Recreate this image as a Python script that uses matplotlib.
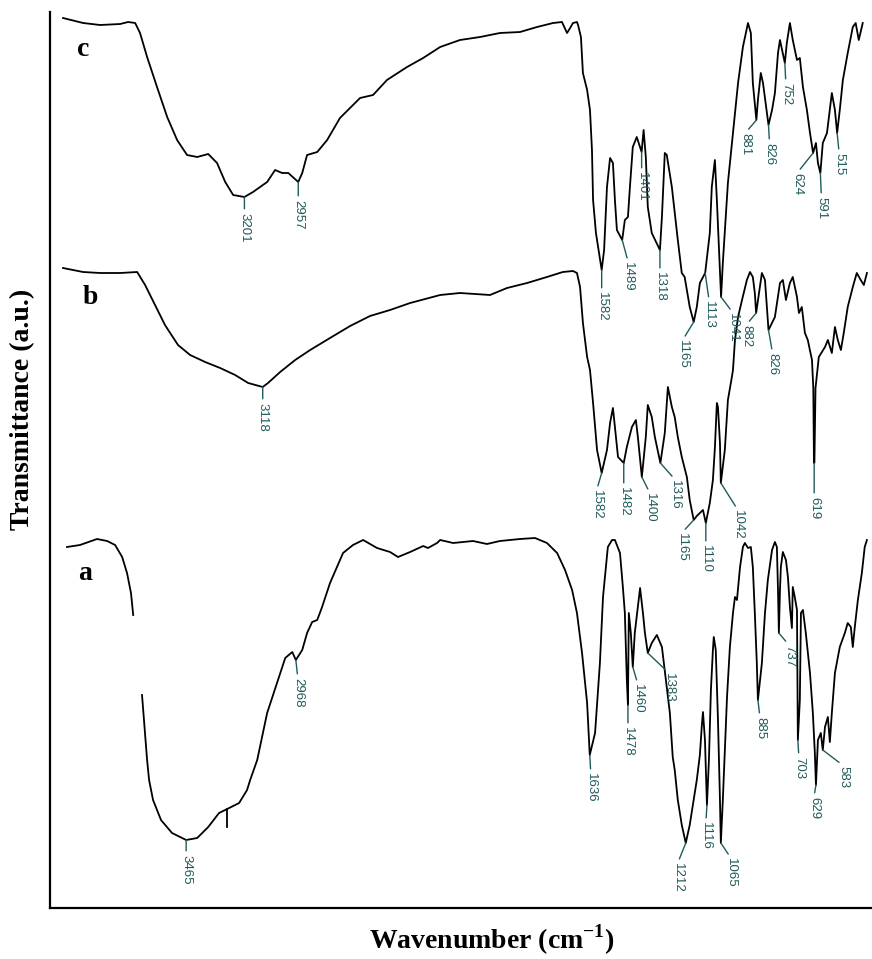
import matplotlib
matplotlib.use("Agg")
import matplotlib.pyplot as plt

plt.rcParams["mathtext.fontset"] = "custom"
plt.rcParams["mathtext.rm"] = "Liberation Serif"
plt.rcParams["mathtext.bf"] = "Liberation Serif:bold"

# ---- spectrum c (wavenumber, transmittance a.u.) ----
c_w = [4023, 3932, 3855, 3764, 3728, 3696, 3674, 3642, 3597, 3551, 3506, 3461, 3415, 3365,
       3325, 3288, 3252, 3201, 3162, 3098, 3062, 3030, 3002, 2957, 2939, 2917, 2871, 2826,
       2768, 2677, 2618, 2555, 2464, 2391, 2314, 2224, 2133, 2043, 1952, 1875, 1802, 1762,
       1739, 1725, 1712, 1694, 1689, 1676, 1667, 1648, 1635, 1626, 1621, 1608, 1582, 1571,
       1558, 1544, 1531, 1522, 1513, 1489, 1477, 1463, 1454, 1441, 1423, 1401, 1392, 1382,
       1373, 1355, 1318, 1309, 1296, 1287, 1264, 1251, 1237, 1219, 1206, 1183, 1165, 1151,
       1137, 1113, 1092, 1083, 1069, 1060, 1041, 1033, 1010, 987, 964, 942, 919, 906, 897,
       881, 874, 861, 851, 833, 826, 810, 797, 783, 774, 752, 743, 729, 716, 697, 684, 670,
       652, 638, 624, 611, 602, 591, 580, 561, 552, 539, 525, 515, 503, 489, 467, 444, 431,
       417, 399]
c_t = [890, 885, 883, 884, 886, 885, 875, 851, 821, 791, 768, 753, 751, 754,
       745, 726, 713, 711, 716, 726, 738, 735, 735, 726, 735, 753, 756, 768,
       790, 810, 813, 828, 841, 850, 861, 868, 871, 875, 876, 881, 885, 886,
       875, 880, 885, 886, 883, 871, 835, 818, 798, 758, 708, 675, 638, 658,
       721, 750, 745, 708, 678, 668, 688, 691, 721, 761, 771, 756, 778, 751,
       701, 675, 658, 691, 755, 753, 721, 695, 668, 635, 631, 601, 586, 601,
       625, 635, 675, 721, 748, 708, 611, 645, 725, 775, 825, 861, 885, 875, 825,
       788, 808, 835, 825, 795, 783, 798, 815, 855, 868, 845, 865, 885, 868, 848, 850, 821,
       798, 775, 755, 765, 745, 735, 765, 775, 791, 815, 798, 775, 798, 828, 855, 881, 885,
       868, 885]

# ---- spectrum b ----
b_w = [4023, 3932, 3855, 3764, 3687, 3651, 3606, 3561, 3502, 3447, 3379, 3311, 3243, 3184,
       3118, 3094, 3039, 2971, 2903, 2813, 2722, 2632, 2541, 2450, 2382, 2314, 2224, 2088,
       2011, 1920, 1830, 1758, 1712, 1694, 1680, 1667, 1648, 1635, 1621, 1603, 1582, 1558,
       1544, 1531, 1522, 1508, 1482, 1468, 1445, 1427, 1418, 1400, 1382, 1373, 1355, 1341,
       1316, 1296, 1282, 1264, 1251, 1237, 1219, 1196, 1183, 1165, 1151, 1137, 1123, 1110,
       1092, 1078, 1069, 1060, 1055, 1046, 1042, 1024, 1010, 992, 987, 978, 964, 946, 924,
       910, 897, 888, 882, 856, 842, 826, 797, 774, 761, 747, 729, 716, 697, 688, 675, 661,
       648, 629, 623, 620, 618, 613, 598, 570, 557, 539, 525, 512, 498, 485, 467, 444, 426,
       408, 394, 380]
b_t = [640, 636, 635, 635, 636, 623, 603, 583, 563, 553, 546, 540, 533, 525,
       521, 525, 536, 548, 558, 570, 582, 592, 598, 605, 609, 613, 615, 613,
       620, 625, 631, 636, 637, 635, 621, 585, 551, 538, 505, 458, 435, 458,
       485, 500, 481, 451, 445, 461, 481, 488, 471, 431, 471, 503, 491, 471,
       445, 475, 521, 501, 491, 471, 451, 431, 408, 388, 392, 395, 398, 385,
       405, 428, 460, 505, 501, 465, 425, 458, 508, 531, 538, 568, 591, 608, 628,
       636, 631, 615, 595, 635, 628, 578, 591, 625, 628, 608, 625, 631, 611, 595, 601, 575,
       568, 548, 520, 445, 445, 520, 551, 561, 568, 555, 581, 568, 558, 575, 601, 621, 635,
       628, 623, 635]

# ---- spectrum a (broken at the start, as in the original record) ----
a1_w = [4005, 3946, 3869, 3823, 3787, 3755, 3733, 3715, 3705]
a1_t = [361, 363, 369, 367, 363, 351, 335, 315, 293]

a_w = [3665, 3642, 3633, 3615, 3579, 3529, 3465, 3415, 3365, 3316, 3279, 3225, 3189, 3175,
       3143, 3098, 3053, 3016, 2984, 2968, 2939, 2917, 2894, 2871, 2849, 2813, 2754, 2709,
       2663, 2600, 2541, 2505, 2450, 2391, 2369, 2328, 2314, 2255, 2165, 2102, 2043, 1952,
       1884, 1830, 1784, 1748, 1716, 1694, 1671, 1648, 1636, 1612, 1590, 1576, 1554, 1535,
       1522, 1499, 1486, 1477, 1468, 1463, 1459, 1450, 1441, 1432, 1418, 1408, 1395, 1386,
       1373, 1355, 1332, 1309, 1291, 1273, 1260, 1251, 1237, 1219, 1201, 1183, 1165, 1151,
       1137, 1128, 1123, 1114, 1105, 1096, 1087, 1078, 1074, 1065, 1055, 1046, 1042, 1033,
       1024, 1014, 1001, 987, 978, 969, 955, 942, 933, 919, 906, 897, 888, 879, 874, 856,
       842, 829, 810, 797, 788, 783, 779, 774, 770, 761, 747, 738, 729, 720, 716, 707, 697,
       693, 684, 679, 670, 657, 638, 625, 616, 611, 602, 589, 580, 570, 557, 548, 539, 525,
       503, 480, 467, 453, 444, 435, 421, 403, 390, 380]
a_t = [213, 148, 128, 108, 88, 75, 68, 70, 81, 95, 99, 105, 118, 128,
       148, 195, 225, 250, 256, 248, 258, 275, 286, 288, 301, 325, 355, 363,
       368, 360, 356, 351, 356, 362, 360, 365, 368, 365, 367, 364, 367, 369,
       370, 365, 355, 338, 318, 295, 255, 205, 153, 175, 245, 311, 361, 368,
       368, 355, 321, 295, 228, 203, 295, 275, 241, 275, 301, 320, 295, 275,
       255, 265, 273, 261, 228, 195, 151, 138, 108, 83, 65, 83, 108, 128,
       153, 183, 196, 168, 103, 148, 218, 258, 271, 258, 188, 108, 65, 108,
       158, 211, 261, 295, 311, 308, 341, 361, 365, 360, 361, 341, 295, 245, 208, 245,
       295, 328, 358, 366, 361, 318, 275, 318, 341, 356, 348, 331, 301, 280, 321, 311, 298,
       168, 208, 295, 298, 275, 235, 195, 155, 123, 168, 175, 158, 181, 191, 166, 195, 235,
       261, 275, 285, 281, 261, 281, 308, 335, 361, 368]
a_tick_w = [3279, 3279]
a_tick_t = [99, 81]

# ---- peak labels: text, anchor wavenumber, anchor transmittance ----
peak_text = ["3201", "2957", "1582", "1489", "1401", "1318", "1165", "1113", "1041",
             "881", "826", "752", "624", "591", "515",
             "3118", "1582", "1482", "1400", "1316", "1165", "1110", "1042", "882",
             "826", "619",
             "3465", "2968", "1636", "1478", "1460", "1383", "1212", "1116", "1065",
             "885", "737", "703", "629", "583"]
peak_w = [3201, 2957, 1582, 1489, 1401, 1318, 1165, 1113, 1041,
          881, 826, 752, 624, 591, 515,
          3118, 1582, 1482, 1400, 1316, 1165, 1110, 1042, 882,
          826, 619,
          3465, 2968, 1636, 1463, 1441, 1373, 1201, 1105, 1042,
          874, 779, 693, 611, 580]
peak_t = [711, 726, 638, 668, 756, 658, 586, 635, 611,
          788, 783, 845, 755, 735, 775,
          521, 435, 445, 431, 445, 388, 385, 425, 595,
          578, 445,
          68, 248, 153, 203, 241, 255, 65, 103, 65,
          208, 275, 168, 123, 158]
# label text offset from the peak, in pixels (right, down)
label_dx = [0, 0, 0, 6, 0, 0, -11, 4, 12,
            -11, 1, 1, -16, 1, 2,
            0, -5, 0, 8, 15, -12, 0, 17, -10,
            4, 0,
            0, 2, 1, 0, 5, 21, -8, -1, 10,
            2, 10, 1, -2, 21]
label_dy = [16, 18, 22, 22, 20, 22, 18, 28, 16,
            13, 18, 20, 20, 24, 20,
            16, 17, 24, 16, 17, 13, 22, 27, 12,
            23, 34,
            15, 18, 18, 22, 17, 20, 20, 17, 15,
            17, 12, 17, 12, 16]

TEAL = "#1f5a5c"

fig = plt.figure(figsize=(8.72, 9.59), dpi=100)
ax = fig.add_axes([50 / 872, 51 / 959, 822 / 872, 896 / 959])

for xs, ys in ((c_w, c_t), (b_w, b_t), (a1_w, a1_t), (a_w, a_t), (a_tick_w, a_tick_t)):
    ax.plot(xs, ys, color="black", lw=1.3)

for txt, w, t, dx, dy in zip(peak_text, peak_w, peak_t, label_dx, label_dy):
    ax.annotate(txt, xy=(w, t), xytext=(dx, -dy), textcoords="offset pixels",
                rotation=270, ha="center", va="top", fontsize=9.5,
                family="Liberation Sans", color=TEAL,
                arrowprops=dict(arrowstyle="-", color=TEAL, lw=1.0,
                                shrinkA=1, shrinkB=0, relpos=(0.5, 1.0)))

ax.set_xlim(4082, 357)
ax.set_ylim(0, 896)
ax.set_xticks([])
ax.set_yticks([])
for side in ("top", "right"):
    ax.spines[side].set_visible(False)
for side in ("left", "bottom"):
    ax.spines[side].set_linewidth(1.6)

serif = dict(family="Liberation Serif", weight="bold")
ax.text(3932, 858, "c", fontsize=20, ha="center", va="center", **serif)
ax.text(3900, 610, "b", fontsize=20, ha="center", va="center", **serif)
ax.text(3923, 335, "a", fontsize=20, ha="center", va="center", **serif)

fig.text(492 / 872, 1 - 940 / 959, r"Wavenumber (cm$^{\mathbf{-1}}$)",
         fontsize=20, ha="center", va="center", **serif)
fig.text(23 / 872, 1 - 409 / 959, "Transmittance (a.u.)", rotation=90,
         fontsize=20, ha="center", va="center", **serif)

fig.savefig("out.png", dpi=100)
